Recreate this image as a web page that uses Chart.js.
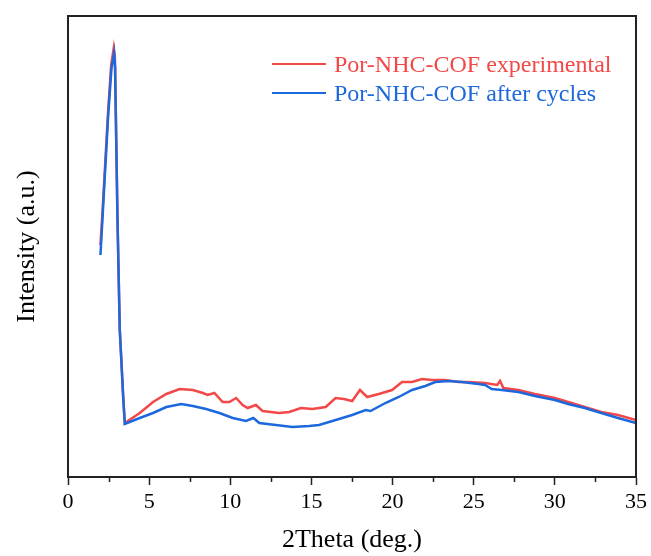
<!DOCTYPE html>
<html>
<head>
<meta charset="utf-8">
<script src="https://cdn.jsdelivr.net/npm/chart.js@4.4.1/dist/chart.umd.min.js"></script>
<style>
  html, body { margin: 0; padding: 0; background: #fff; }
  #wrap { width: 651px; height: 556px; }
</style>
</head>
<body>
<div id="wrap"><canvas id="xrd"></canvas></div>
<script>
// 2Theta (deg.) and intensity (a.u.)
var redTheta = [2.00, 2.13, 2.47, 2.66, 2.82, 2.89, 3.05, 3.19, 3.40, 3.50, 4.42, 5.24, 6.06, 6.88, 7.69, 8.31, 8.61, 9.02, 9.53, 9.94, 10.36, 10.76, 11.07, 11.58, 11.99, 13.01, 13.63, 14.35, 15.06, 15.88, 16.49, 17.00, 17.51, 17.99, 18.44, 19.15, 19.97, 20.58, 21.20, 21.81, 22.43, 23.25, 24.06, 24.68, 25.70, 26.45, 26.62, 26.83, 27.75, 28.77, 30.00, 30.82, 31.84, 32.86, 33.89, 35.00];
var redIntensity = [232, 266, 365, 412, 429, 420, 258, 148, 81, 54, 64, 75, 83, 88, 87, 84, 82, 84, 75, 75, 79, 72, 69, 72, 66, 64, 65, 69, 68, 70, 79, 78, 76, 87, 80, 83, 87, 95, 95, 98, 97, 97, 95, 95, 94, 92, 96, 89, 87, 83, 79, 75, 70, 65, 62, 57];

var blueTheta = [2.00, 2.13, 2.47, 2.68, 2.84, 2.90, 3.05, 3.19, 3.40, 3.50, 4.42, 5.24, 6.06, 6.98, 7.69, 8.51, 9.33, 10.15, 10.97, 11.42, 11.79, 12.81, 13.83, 14.86, 15.47, 16.70, 17.51, 18.34, 18.64, 19.56, 20.38, 21.20, 22.02, 22.63, 23.45, 24.27, 25.29, 25.70, 26.11, 26.72, 27.75, 28.77, 30.00, 30.82, 31.84, 32.86, 33.89, 35.00];
var blueIntensity = [222, 260, 360, 409, 424, 410, 257, 147, 80, 53, 59, 64, 70, 73, 71, 68, 64, 59, 56, 59, 54, 52, 50, 51, 52, 58, 62, 67, 66, 74, 80, 87, 91, 95, 96, 95, 93, 92, 88, 87, 85, 81, 77, 73, 69, 64, 59, 54];

var seriesNames = ["Por-NHC-COF experimental", "Por-NHC-COF after cycles"];
var seriesColors = ["#f24848", "#1c68dc"];

function toPoints(xs, ys) {
    var pts = [];
    for (var i = 0; i < xs.length; i++) pts.push({ x: xs[i], y: ys[i] });
    return pts;
}

var FONT = "'Liberation Serif', 'Times New Roman', serif";

// box around the plot, minor ticks and the legend
var framePlugin = {
    id: 'frame',
    afterDraw: function (chart) {
        var ctx = chart.ctx;
        var a = chart.chartArea;
        var xs = chart.scales.x;
        ctx.save();
        ctx.strokeStyle = '#222';
        ctx.lineWidth = 2;
        ctx.strokeRect(a.left, a.top, a.right - a.left, a.bottom - a.top);

        ctx.lineWidth = 1.5;
        for (var v = 2.5; v < 35; v += 5) {
            var px = Math.round(xs.getPixelForValue(v)) + 0.5;
            ctx.beginPath();
            ctx.moveTo(px, a.bottom);
            ctx.lineTo(px, a.bottom + 5);
            ctx.stroke();
        }

        var lx = a.right - 364;
        var ly = [a.top + 48, a.top + 77];
        ctx.font = '24px ' + FONT;
        ctx.textBaseline = 'middle';
        for (var i = 0; i < 2; i++) {
            ctx.strokeStyle = seriesColors[i];
            ctx.lineWidth = 2;
            ctx.beginPath();
            ctx.moveTo(lx, ly[i]);
            ctx.lineTo(lx + 54, ly[i]);
            ctx.stroke();
            ctx.fillStyle = seriesColors[i];
            ctx.fillText(seriesNames[i], lx + 62, ly[i] + 2);
        }
        ctx.restore();
    }
};

var ctx = document.getElementById('xrd').getContext('2d');

var graphic = new Chart(ctx, {
    type: 'line',
    data: {
        datasets: [{
            label: seriesNames[0],
            data: toPoints(redTheta, redIntensity),
            borderColor: seriesColors[0],
            borderWidth: 2.5,
            pointRadius: 0,
            tension: 0,
            order: 2
        }, {
            label: seriesNames[1],
            data: toPoints(blueTheta, blueIntensity),
            borderColor: seriesColors[1],
            borderWidth: 2.5,
            pointRadius: 0,
            tension: 0,
            order: 1
        }]
    },
    options: {
        responsive: true,
        maintainAspectRatio: false,
        animation: false,
        layout: { padding: { top: 16, right: 12, left: 0, bottom: 0 } },
        plugins: {
            legend: { display: false },
            tooltip: { enabled: false }
        },
        scales: {
            x: {
                type: 'linear',
                min: 0,
                max: 35,
                ticks: {
                    stepSize: 5,
                    color: '#000',
                    padding: 4,
                    maxRotation: 0,
                    font: { family: FONT, size: 22 }
                },
                grid: {
                    drawOnChartArea: false,
                    drawTicks: true,
                    tickLength: 8,
                    tickColor: '#222',
                    tickWidth: 1.5
                },
                border: { color: '#222', width: 2 },
                title: {
                    display: true,
                    text: '2Theta (deg.)',
                    color: '#000',
                    padding: { top: 6, bottom: 0 },
                    font: { family: FONT, size: 26 }
                },
                afterFit: function (scale) { scale.height = 79; }
            },
            y: {
                min: 0,
                max: 461,
                ticks: { display: false },
                grid: { display: false },
                border: { color: '#222', width: 2 },
                title: {
                    display: true,
                    text: 'Intensity (a.u.)',
                    color: '#000',
                    padding: { top: 12, bottom: 0 },
                    font: { family: FONT, size: 26 }
                },
                afterFit: function (scale) { scale.width = 68; }
            }
        }
    },
    plugins: [framePlugin]
});
</script>
</body>
</html>
